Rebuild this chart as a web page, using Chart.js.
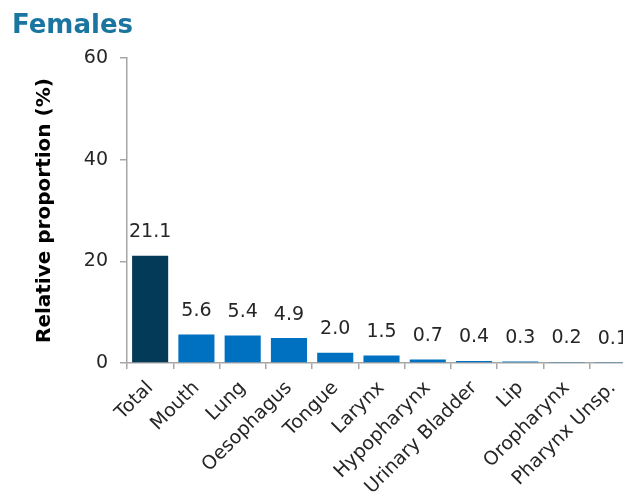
<!DOCTYPE html>
<html>
<head>
<meta charset="utf-8">
<script src="https://cdn.jsdelivr.net/npm/chart.js@4"></script>
<style>
  html, body { margin: 0; padding: 0; background: #fff; overflow: hidden; width: 623px; height: 496px; }
  #wrap { width: 640px; height: 496px; position: relative; }
</style>
</head>
<body>
<div id="wrap"><canvas id="c" width="640" height="496"></canvas></div>
<script>
const categories = ["Total", "Mouth", "Lung", "Oesophagus", "Tongue", "Larynx", "Hypopharynx", "Urinary Bladder", "Lip", "Oropharynx", "Pharynx Unsp."];
const proportions = [21.1, 5.6, 5.4, 4.9, 2.0, 1.5, 0.7, 0.4, 0.3, 0.2, 0.1];
const yTicks = [0, 20, 40, 60];
const titleText = "Females";
const yAxisTitle = "Relative proportion (%)";

const barColors = categories.map((c, i) => i === 0 ? "#033a57" : "#0070c0");

const valueLabels = {
  id: "valueLabels",
  afterDatasetsDraw(chart) {
    const ctx = chart.ctx;
    const meta = chart.getDatasetMeta(0);
    ctx.save();
    ctx.font = "19px 'DejaVu Sans'";
    ctx.fillStyle = "#262626";
    ctx.textAlign = "center";
    ctx.textBaseline = "bottom";
    meta.data.forEach((bar, i) => {
      ctx.fillText(proportions[i].toFixed(1), bar.x, bar.y - 14);
    });
    ctx.restore();
  }
};

new Chart(document.getElementById("c"), {
  type: "bar",
  data: {
    labels: categories,
    datasets: [{
      data: proportions,
      backgroundColor: barColors,
      borderWidth: 0,
      barPercentage: 0.78,
      categoryPercentage: 1.0
    }]
  },
  options: {
    responsive: false,
    animation: false,
    devicePixelRatio: 1,
    layout: { padding: { left: 12, right: 4, top: 0, bottom: 0 } },
    plugins: {
      legend: { display: false },
      tooltip: { enabled: false },
      title: {
        display: true,
        text: titleText,
        align: "start",
        color: "#1a75a0",
        font: { family: "'DejaVu Sans'", size: 26, weight: "bold" },
        padding: { top: 11, bottom: 16 }
      }
    },
    scales: {
      x: {
        grid: { display: true, drawOnChartArea: false, offset: true, tickLength: 6, color: "#a6a6a6", lineWidth: 1.5 },
        border: { display: true, color: "#a6a6a6", width: 1.5 },
        ticks: {
          color: "#262626",
          font: { family: "'DejaVu Sans'", size: 19 },
          maxRotation: 45, minRotation: 45,
          autoSkip: false,
          padding: 8
        },
        afterFit(scale) { scale.height = 133; }
      },
      y: {
        min: 0, max: 60,
        afterBuildTicks(scale) { scale.ticks = yTicks.map(v => ({ value: v })); },
        grid: { display: true, drawOnChartArea: false, tickLength: 7, color: "#a6a6a6", lineWidth: 1.5 },
        border: { display: true, color: "#a6a6a6", width: 1.5 },
        ticks: {
          color: "#262626",
          font: { family: "'DejaVu Sans'", size: 19 },
          padding: 12
        },
        title: {
          display: true,
          text: yAxisTitle,
          color: "#000000",
          font: { family: "'DejaVu Sans'", size: 20, weight: "bold" },
          padding: { top: 21, bottom: 0 }
        },
        afterFit(scale) { scale.width = 115; }
      }
    }
  },
  plugins: [valueLabels]
});
</script>
</body>
</html>
